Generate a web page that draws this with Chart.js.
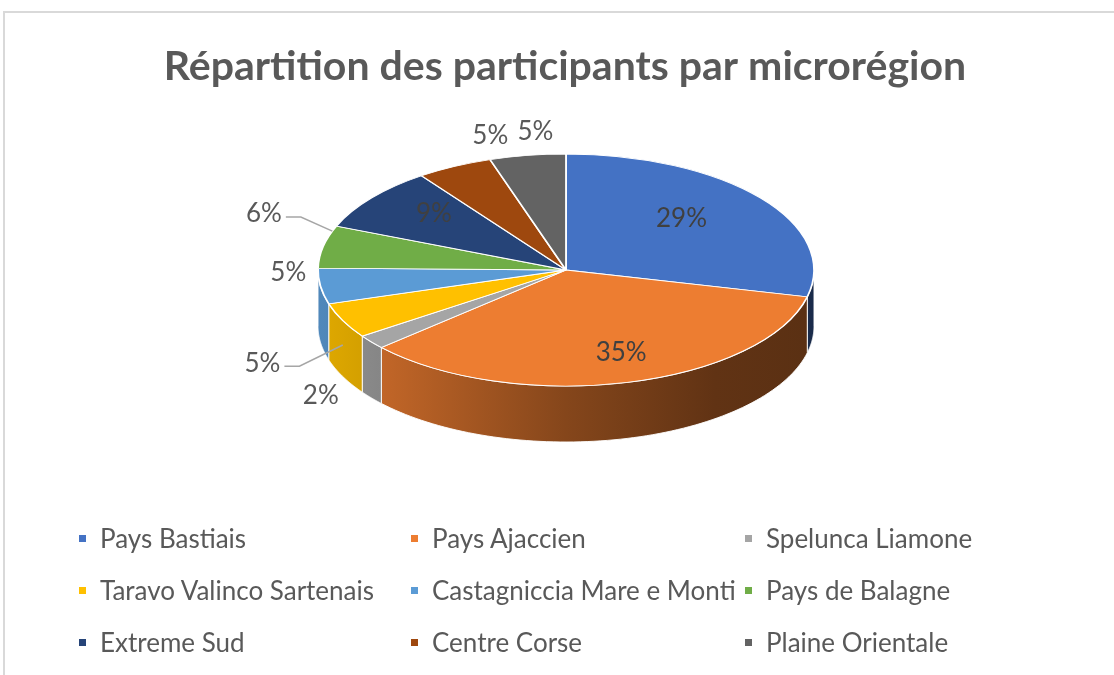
<!DOCTYPE html>
<html><head><meta charset="utf-8">
<script src="https://cdn.jsdelivr.net/npm/chart.js@4"></script>
<style>
html,body{margin:0;padding:0;background:#fff;width:1114px;height:675px;overflow:hidden;font-family:Lato,sans-serif}
#frame{position:absolute;left:3px;top:11px;width:1300px;height:900px;border-top:2px solid #d9d9d9;border-left:2px solid #d9d9d9}
#c{position:absolute;left:0;top:0}
#legend{position:absolute;left:0;top:0;width:1114px;height:675px}
.li{position:absolute;font-size:26px;color:#595959;white-space:nowrap;line-height:28px;height:28px}
.li .m{position:absolute;left:-21px;top:11px;width:7px;height:7px}
</style></head>
<body>
<div id="frame"></div>
<canvas id="c" width="1114" height="675"></canvas>
<div id="legend"></div>
<script>
const categories = ['Pays Bastiais','Pays Ajaccien','Spelunca Liamone','Taravo Valinco Sartenais','Castagniccia Mare e Monti','Pays de Balagne','Extreme Sud','Centre Corse','Plaine Orientale'];
const percentages = [29, 35, 2, 5, 5, 6, 9, 5, 5];
const colors = ['#4472c4','#ed7d31','#a5a5a5','#ffc000','#5b9bd5','#70ad47','#264478','#9e480e','#636363'];
const titleText = 'Répartition des participants par microrégion';

// presentation settings
const geom = {cx: 566, cy: 270, rx: 248, ry: 116, depth: 56};
const labelRadius = [0.64, 0.75, 1.26, 1.36, 1.12, 1.31, 0.72, 1.2, 1.2];
const labelAngleShift = [-5, -3, 0, 0, 7, 10, 4, 12, 3];
const leaderLabels = [false, false, false, true, false, true, false, false, false];
const leaderAnchorShift = [0, 0, 0, 0, 0, 8, 0, 0, 0];
const sideStops = [[0,0.88],[0.15,0.8],[0.5,0.56],[0.8,0.41],[1,0.38]];
const legendCols = [100, 432, 766];
const legendRows = [524, 576, 628];

function shade(hex, f){
  const n = parseInt(hex.slice(1),16);
  const r=(n>>16)&255, g=(n>>8)&255, b=n&255;
  return 'rgb('+Math.round(r*f)+','+Math.round(g*f)+','+Math.round(b*f)+')';
}

const tilt = {
  id: 'tilt',
  beforeDatasetsDraw(chart){
    const ctx = chart.ctx;
    const meta = chart.getDatasetMeta(0);
    const el0 = meta.data[0];
    const R = el0.outerRadius, ox = el0.x, oy = el0.y;
    const {cx, cy, rx, ry, depth} = geom;
    meta.data.forEach((el, i) => {
      const s2 = Math.max(el.startAngle, 0), e2 = Math.min(el.endAngle, Math.PI);
      if (e2 <= s2) return;
      const grad = ctx.createLinearGradient(cx - rx, 0, cx + rx, 0);
      sideStops.forEach(([t, f]) => grad.addColorStop(t, shade(colors[i], f)));
      ctx.beginPath();
      const N = 80;
      for (let k = 0; k <= N; k++) {
        const t = s2 + (e2 - s2) * k / N;
        const px = cx + rx * Math.cos(t), py = cy + ry * Math.sin(t);
        if (k === 0) ctx.moveTo(px, py); else ctx.lineTo(px, py);
      }
      for (let k = N; k >= 0; k--) {
        const t = s2 + (e2 - s2) * k / N;
        ctx.lineTo(cx + rx * Math.cos(t), cy + ry * Math.sin(t) + depth);
      }
      ctx.closePath();
      ctx.fillStyle = grad;
      ctx.fill();
      ctx.strokeStyle = 'rgba(255,255,255,0.9)';
      ctx.lineWidth = 1;
      ctx.stroke();
    });
    ctx.save();
    ctx.translate(cx, cy);
    ctx.scale(rx / R, ry / R);
    ctx.translate(-ox, -oy);
  },
  afterDatasetsDraw(chart){
    const ctx = chart.ctx;
    ctx.restore();
    const meta = chart.getDatasetMeta(0);
    const {cx, cy, rx, ry, depth} = geom;
    ctx.save();
    ctx.font = '26px Lato';
    ctx.textAlign = 'center';
    ctx.textBaseline = 'middle';
    meta.data.forEach((el, i) => {
      const midRaw = (el.startAngle + el.endAngle) / 2;
      const mid = midRaw + labelAngleShift[i] * Math.PI / 180;
      const r = labelRadius[i];
      const c = Math.cos(mid), s = Math.sin(mid);
      let x = cx + r * rx * c, y = cy + r * ry * s;
      if (r > 1 && s > 0.3) y += depth * s;
      const txt = percentages[i] + '%';
      ctx.fillStyle = r < 1 ? '#404040' : '#595959';
      ctx.fillText(txt, x, y);
      if (leaderLabels[i]) {
        const w = ctx.measureText(txt).width;
        const am = midRaw + leaderAnchorShift[i] * Math.PI / 180;
        const c0 = Math.cos(am), s0 = Math.sin(am);
        const ax = cx + rx * c0, ay = cy + ry * s0 + (s0 > 0 ? depth * s0 : 0);
        ctx.beginPath();
        ctx.moveTo(x + w / 2 + 4, y + 3);
        ctx.lineTo(x + w / 2 + 19, y + 3);
        ctx.lineTo(ax, ay);
        ctx.strokeStyle = '#a6a6a6';
        ctx.lineWidth = 1.5;
        ctx.stroke();
      }
    });
    ctx.restore();
  }
};

new Chart(document.getElementById('c'), {
  type: 'pie',
  data: {
    labels: categories,
    datasets: [{data: percentages, backgroundColor: colors, borderColor: '#ffffff', borderWidth: 1.5}]
  },
  options: {
    responsive: false,
    animation: false,
    events: [],
    layout: {padding: {top: 0, bottom: 150, left: 16, right: 0}},
    plugins: {
      legend: {display: false},
      tooltip: {enabled: false},
      title: {display: true, text: titleText, color: '#595959',
        font: {family: 'Lato', size: 41, weight: 'bold'}, padding: {top: 42, bottom: 20}}
    }
  },
  plugins: [tilt]
});

// HTML legend
const lg = document.getElementById('legend');
categories.forEach((name, i) => {
  const d = document.createElement('div');
  d.className = 'li';
  d.style.left = legendCols[i % 3] + 'px';
  d.style.top = legendRows[Math.floor(i / 3)] + 'px';
  const m = document.createElement('span');
  m.className = 'm';
  m.style.background = colors[i];
  d.appendChild(m);
  d.appendChild(document.createTextNode(name));
  lg.appendChild(d);
});
</script>
</body></html>
